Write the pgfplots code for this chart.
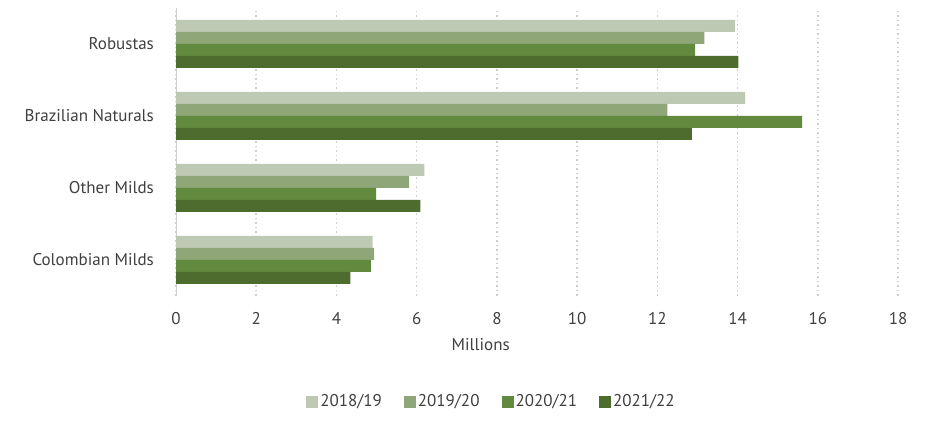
\documentclass[border=0pt]{standalone}
\usepackage{fontspec}
\setmainfont{PT Sans}
\usepackage{pgfplots}
\pgfplotsset{compat=1.18}
\definecolor{cA}{RGB}{190,201,180}
\definecolor{cB}{RGB}{143,167,120}
\definecolor{cC}{RGB}{98,138,62}
\definecolor{cD}{RGB}{78,108,46}
\definecolor{txt}{RGB}{64,64,64}
\definecolor{grd}{RGB}{205,205,205}
\begin{document}
\fontsize{17bp}{20bp}\selectfont
\begin{tikzpicture}[x=1bp,y=1bp]
\useasboundingbox (0,0) rectangle (948,440);
\begin{axis}[
  at={(176bp,144bp)}, anchor=south west,
  width=722bp, height=288bp, scale only axis,
  xmin=0, xmax=18, ymin=-0.5, ymax=3.5,
  xtick={0,2,...,18}, ytick={0,1,2,3},
  yticklabels={Colombian Milds, Other Milds, Brazilian Naturals, Robustas},
  /pgf/number format/assume math mode=true,
  xbar, bar width=12bp,
  axis x line*=bottom, axis y line*=left,
  x axis line style={draw=none},
  y axis line style={draw=grd, line width=1bp},
  tick style={draw=none},
  xmajorgrids,
  major grid style={draw=grd, line width=1.5bp, dash pattern=on 1.5bp off 3bp},
  ticklabel style={text=txt, font=\fontsize{17bp}{20bp}\selectfont},
  xticklabel style={yshift=-11bp},
  yticklabel style={xshift=-12bp},
  xlabel={Millions},
  x label style={at={(axis description cs:0.422,0)}, anchor=center, yshift=-49bp, text=txt, font=\fontsize{17bp}{20bp}\selectfont},
  legend columns=4,
  legend style={at={(axis description cs:0.437,-0.368)}, anchor=center, draw=none, fill=none,
    font=\fontsize{17bp}{20bp}\selectfont, text=txt,
    /tikz/every even column/.append style={column sep=20bp},
    nodes={inner sep=2bp}},
  legend image code/.code={\fill[#1] (0bp,-6bp) rectangle (12bp,6bp);},
]
\addplot[fill=cA, draw=none, bar shift=18bp] coordinates {(4.90,0) (6.19,1) (14.19,2) (13.93,3)};
\addplot[fill=cB, draw=none, bar shift=6bp] coordinates {(4.94,0) (5.81,1) (12.25,2) (13.17,3)};
\addplot[fill=cC, draw=none, bar shift=-6bp] coordinates {(4.86,0) (4.99,1) (15.61,2) (12.94,3)};
\addplot[fill=cD, draw=none, bar shift=-18bp] coordinates {(4.35,0) (6.09,1) (12.86,2) (14.02,3)};
\legend{2018/19, 2019/20, 2020/21, 2021/22}
\end{axis}
\end{tikzpicture}
\end{document}
